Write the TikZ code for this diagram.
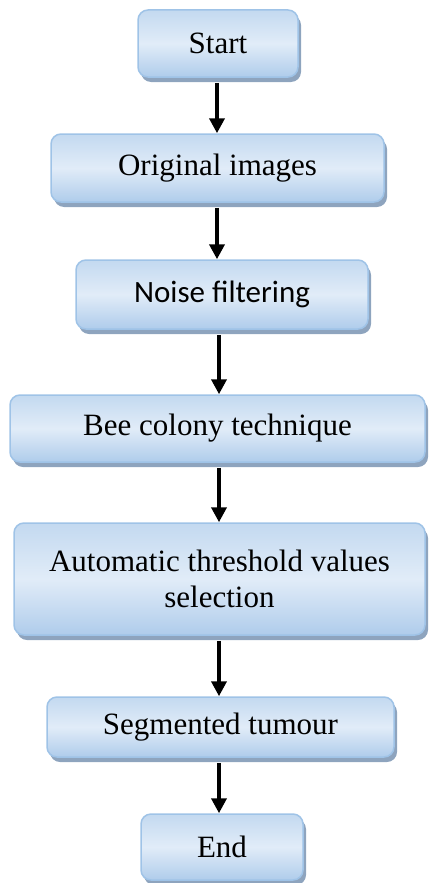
\documentclass[tikz,border=0pt]{standalone}
\usepackage{fontspec}
\setmainfont{Liberation Serif}
\newfontfamily\calfont{Carlito}
\usetikzlibrary{arrows.meta,shadows}
\definecolor{boxedge}{HTML}{9FC3E7}
\definecolor{boxtop}{HTML}{C3D9F0}
\definecolor{boxmid}{HTML}{E1ECF8}
\definecolor{boxbot}{HTML}{AFCCEB}
\definecolor{shadowc}{HTML}{8EA4BE}
\tikzset{
  flowbox/.style={draw=boxedge, line width=1.5pt, rounded corners=10pt,
    top color=boxtop, bottom color=boxbot, middle color=boxmid,
    drop shadow={shadow xshift=3pt, shadow yshift=-5pt, fill=shadowc, opacity=1},
    align=center, inner sep=0pt, font=\fontsize{31}{36}\selectfont},
  flowarrow/.style={line width=4pt, -{Triangle[width=15pt,length=15pt]}, shorten <=5pt}
}
\begin{document}
\begin{tikzpicture}[x=1pt,y=-1pt]
\useasboundingbox (0,0) rectangle (429,883);
\node[flowbox, minimum width=160pt, minimum height=67pt] (start) at (218,43.5) {Start};
\node[flowbox, minimum width=333pt, minimum height=68pt] (orig) at (217.5,168) {Original images};
\node[flowbox, minimum width=292pt, minimum height=69pt] (noise) at (222,294.5) {\calfont Noise filtering};
\node[flowbox, minimum width=415pt, minimum height=67pt] (bee) at (217.5,428.5) {Bee colony technique};
\node[flowbox, minimum width=411pt, minimum height=112pt] (auto) at (219.5,579) {Automatic threshold values\\selection};
\node[flowbox, minimum width=347pt, minimum height=60pt] (seg) at (220.5,727) {Segmented tumour};
\node[flowbox, minimum width=162pt, minimum height=66pt] (end) at (222,847) {End};
\coordinate (s1) at (217,0);
\coordinate (s2) at (219,0);
\draw[flowarrow] (start.south -| s1) -- (orig.north -| s1);
\draw[flowarrow] (orig.south -| s1) -- (noise.north -| s1);
\draw[flowarrow] (noise.south -| s2) -- (bee.north -| s2);
\draw[flowarrow] (bee.south -| s2) -- (auto.north -| s2);
\draw[flowarrow] (auto.south -| s2) -- (seg.north -| s2);
\draw[flowarrow] (seg.south -| s2) -- (end.north -| s2);
\end{tikzpicture}
\end{document}
